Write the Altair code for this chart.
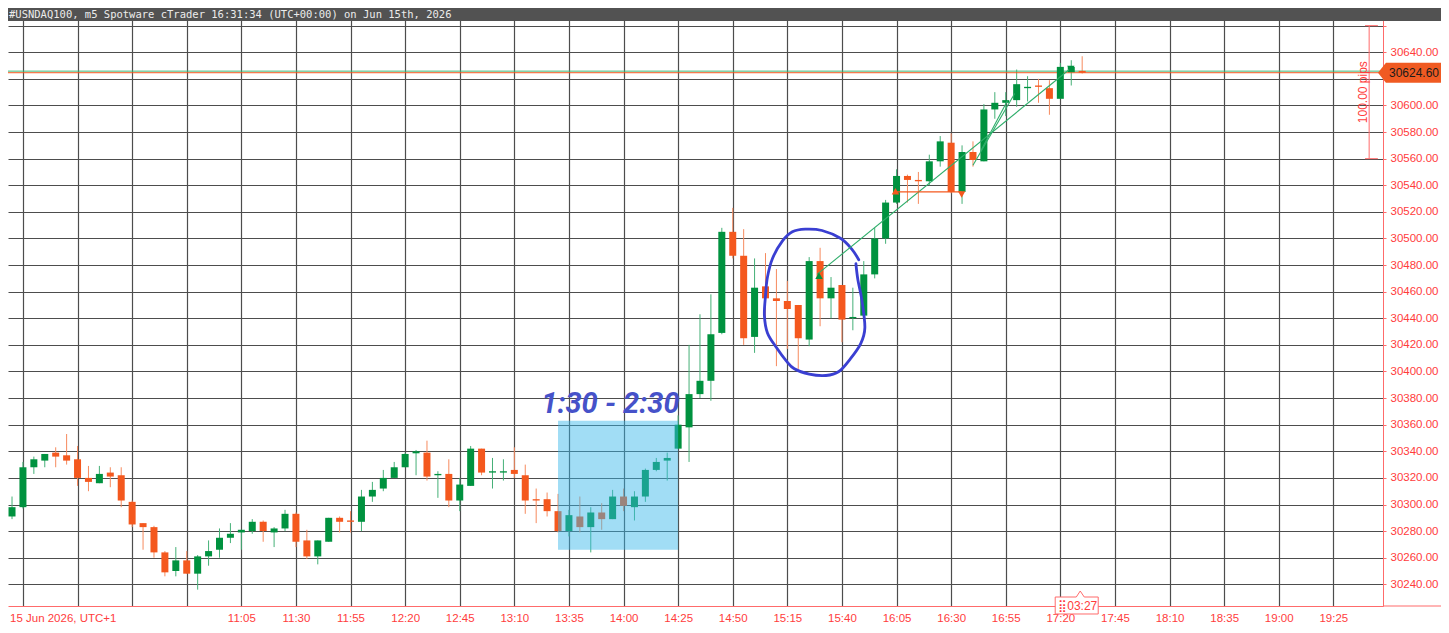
import altair as alt
import pandas as pd

TITLE = "#USNDAQ100, m5 Spotware cTrader 16:31:34 (UTC+00:00) on Jun 15th, 2026"
DATE_LABEL = "15 Jun 2026, UTC+1"
FIRST_BAR = "09:20"
BAR_MINUTES = 5

opens = [30291, 30298, 30328, 30333, 30339, 30337, 30334, 30320, 30316, 30324,
         30322, 30302, 30286, 30283, 30264, 30250, 30258, 30248, 30261, 30266,
         30275, 30279, 30280, 30287, 30279, 30282, 30293, 30273, 30261, 30272,
         30290, 30288, 30287, 30306, 30312, 30320, 30328, 30338.5, 30339, 30322,
         30323, 30303, 30314, 30342, 30324, 30324, 30326, 30322, 30304, 30304,
         30295, 30280, 30291, 30283, 30294, 30289, 30306, 30298, 30306, 30326,
         30333, 30342, 30358, 30383, 30393, 30429, 30505, 30487, 30426, 30464,
         30455, 30453, 30450, 30424, 30483, 30455, 30465, 30440, 30442, 30473,
         30500, 30527, 30547, 30544, 30543, 30558, 30572, 30535, 30565, 30558,
         30597, 30602, 30604, 30613, 30615, 30613, 30605, 30625, 30626]
highs = [30306, 30332, 30336, 30338, 30343, 30353, 30344, 30329, 30329, 30328,
         30328, 30303, 30286, 30284, 30265, 30268, 30265, 30262, 30273, 30282,
         30286, 30281, 30289, 30288, 30283, 30296, 30294, 30281, 30273, 30290,
         30291, 30295, 30311, 30317, 30326, 30332, 30339, 30341, 30348, 30325,
         30334, 30320, 30344, 30342, 30335, 30334, 30343, 30330, 30312, 30309,
         30308, 30296, 30306, 30298, 30301, 30311, 30312, 30310, 30327, 30335,
         30339, 30367, 30420, 30443, 30458, 30508, 30523, 30507, 30485, 30489,
         30477, 30468, 30450, 30486, 30493, 30471, 30465, 30463, 30483, 30508,
         30529, 30552, 30548, 30550, 30563, 30577, 30579, 30570, 30573, 30601,
         30610, 30610, 30627, 30622, 30620, 30619, 30632, 30634, 30637]
lows = [30289, 30297, 30323, 30328, 30328, 30330, 30314, 30310, 30316, 30313,
        30298, 30283, 30266, 30260, 30246, 30246, 30248, 30236, 30254, 30260,
        30271, 30266, 30278, 30272, 30268, 30280, 30268, 30259, 30255, 30272,
        30279, 30279, 30280, 30302, 30310, 30320, 30328, 30322, 30318, 30305,
        30298, 30295, 30314, 30322, 30312, 30318, 30320, 30293, 30286, 30291,
        30279, 30276, 30279, 30264, 30281, 30289, 30295, 30288, 30302, 30325,
        30318, 30342, 30332, 30380, 30378, 30428, 30485, 30420, 30414, 30434,
        30404, 30417, 30402, 30419, 30434, 30440, 30422, 30431, 30440, 30470,
        30496, 30526, 30527, 30526, 30540, 30554, 30534, 30526, 30554, 30558,
        30590, 30592, 30599, 30603, 30602, 30593, 30605, 30615, 30624]
closes = [30298, 30328, 30334, 30338, 30336, 30333, 30320, 30317, 30323, 30321,
          30303, 30285, 30283, 30264, 30249, 30258, 30248, 30261, 30265, 30275,
          30278, 30281, 30287, 30280, 30282, 30293, 30272, 30261, 30273, 30290,
          30287, 30287, 30306, 30311, 30320, 30328, 30338, 30340, 30321, 30323,
          30303, 30315, 30342, 30324, 30325, 30325, 30323, 30303, 30303, 30295,
          30280, 30292, 30283, 30294, 30289, 30306, 30299, 30306, 30326, 30332,
          30335, 30360, 30383, 30393, 30428, 30505, 30487, 30425, 30463, 30455,
          30453, 30447, 30425, 30483, 30455, 30463, 30439, 30441, 30473, 30500,
          30527, 30547, 30544, 30543, 30558, 30573, 30535, 30565, 30559, 30597,
          30602, 30604, 30616, 30614, 30614, 30605, 30629, 30629, 30624.6]

x_tick_times = ["09:25", "09:50", "10:15", "10:40", "11:05", "11:30", "11:55",
                "12:20", "12:45", "13:10", "13:35", "14:00", "14:25", "14:50",
                "15:15", "15:40", "16:05", "16:30", "16:55", "17:20", "17:45",
                "18:10", "18:35", "19:00", "19:25"]
FIRST_LABELED = "11:05"
y_ticks = [30240, 30260, 30280, 30300, 30320, 30340, 30360, 30380, 30400, 30420,
           30440, 30460, 30480, 30500, 30520, 30540, 30560, 30580, 30600, 30620,
           30640, 30660]
Y_LAST_LABELED = 30640
Y_HIDDEN_LABEL = 30620   # covered by the price tag in the original

BID = 30624.60
ASK = 30625.80
TIMER = "03:27"

# highlighted session box
box_start, box_end = "13:30", "14:25"
box_low, box_high = 30266, 30363
box_label = "1:30 - 2:30"
box_label_time, box_label_price = "13:54", 30369

# hand-drawn loop (time, price)
loop_times = ["15:46.4", "15:47.3", "15:49.1", "15:50.5", "15:48.6", "15:43.6",
              "15:38.6", "15:32.7", "15:25.0", "15:18.2", "15:14.5", "15:10.0",
              "15:05.9", "15:04.5", "15:05.0", "15:05.9", "15:08.2", "15:12.7",
              "15:17.3", "15:23.2", "15:30.9", "15:39.5", "15:44.5", "15:47.7"]
loop_prices = [30481, 30469, 30454, 30433, 30421, 30409, 30400, 30397, 30398,
               30402, 30408, 30418, 30429, 30442, 30457, 30471, 30485, 30498,
               30505, 30507, 30506, 30500, 30492, 30484]

# trade connectors (start time, start price, end time, end price, colour)
seg_t1 = ["15:28.6", "16:40.0", "16:43.6", "16:04.5"]
seg_p1 = [30473, 30555, 30566, 30535]
seg_t2 = ["17:24.1", "16:59.1", "16:55.9", "16:34.8"]
seg_p2 = [30627, 30609, 30604, 30535]
seg_col = ["#2fae6b", "#2fae6b", "#2fae6b", "#f4581e"]

# trade markers
mk_t = ["15:29.5", "17:24.8", "16:04.5", "16:34.8"]
mk_p = [30472, 30627.5, 30535.5, 30533]
mk_shape = ["triangle-up", "triangle-down", "triangle-up", "triangle-down"]
mk_col = ["#00923f", "#00923f", "#f4581e", "#f4581e"]

# measurement tool
meas_time = "19:41.4"
meas_low, meas_high = 30560, 30660
meas_tick_from, meas_tick_to = "19:39.5", "19:45.4"
meas_label = "100.00 pips"
meas_label_time, meas_label_price = "19:38.5", 30610

TIMER_TIME = "17:27.5"

GREEN, ORANGE = "#00923f", "#f4581e"
GREEN_W, ORANGE_W = "#45b077", "#f68a5e"
RED = "#ff3c3c"
RED_LINE = "#ff6b6b"
GRID = "#4d4d4d"


def to_min(s):
    hh, mm = s.split(":")
    return int(hh) * 60 + float(mm)


X_DOMAIN = [560.45, 1185.45]
Y_DOMAIN = [30223.7, 30666.5]

t0 = to_min(FIRST_BAR)
candles = pd.DataFrame({
    "t": [t0 + BAR_MINUTES * i for i in range(len(opens))],
    "o": opens, "h": highs, "l": lows, "c": closes,
})
candles["top"] = candles[["o", "c"]].max(axis=1)
candles["bot"] = candles[["o", "c"]].min(axis=1)

xs = alt.Scale(domain=X_DOMAIN, nice=False, zero=False)
ys = alt.Scale(domain=Y_DOMAIN, nice=False, zero=False)

x_vals = [to_min(s) for s in x_tick_times]
first_lab = to_min(FIRST_LABELED)

x_axis = alt.Axis(
    values=x_vals, grid=True, gridColor=GRID, gridWidth=1.2, ticks=False,
    domainColor=RED_LINE, domainWidth=1, labelColor=RED, labelFont="Liberation Sans",
    labelFontSize=11.5, labelPadding=6, labelOverlap=False, labelFlush=False, title=None,
    labelExpr=f"datum.value < {first_lab} ? '' : floor(datum.value / 60) + ':' + format(datum.value % 60, '02d')",
)
y_axis = alt.Axis(
    orient="right", values=y_ticks, grid=True, gridColor=GRID, gridWidth=1.2,
    tickColor=RED_LINE, tickSize=3, domainColor=RED_LINE, domainWidth=1,
    labelColor=RED, labelFont="Liberation Sans", labelFontSize=11.5, labelPadding=4,
    labelAlign="left", labelBaseline="middle", labelOverlap=False, labelFlush=False,
    title=None,
    labelExpr=(f"(datum.value > {Y_LAST_LABELED} || datum.value == {Y_HIDDEN_LABEL}) ? '' : "
               "format(datum.value, '.2f')"),
)

up = "datum.c >= datum.o"

axes_layer = alt.Chart(candles).mark_rule(opacity=0).encode(
    x=alt.X("t:Q", scale=xs, axis=x_axis),
    y=alt.Y("l:Q", scale=ys, axis=y_axis),
)

wicks = alt.Chart(candles).mark_rule(strokeWidth=1).encode(
    x=alt.X("t:Q", scale=xs, axis=None),
    y=alt.Y("l:Q", scale=ys, axis=None),
    y2="h:Q",
    color=alt.condition(up, alt.value(GREEN_W), alt.value(ORANGE_W)),
)
bodies = alt.Chart(candles).mark_bar(size=7).encode(
    x=alt.X("t:Q", scale=xs, axis=None),
    y=alt.Y("bot:Q", scale=ys, axis=None),
    y2="top:Q",
    color=alt.condition(up, alt.value(GREEN), alt.value(ORANGE)),
)

price_df = pd.DataFrame({"p": [ASK, BID], "col": ["#3fb878", "#f4581e"]})
price_lines = alt.Chart(price_df).mark_rule(strokeWidth=1).encode(
    y=alt.Y("p:Q", scale=ys, axis=None),
    color=alt.Color("col:N", scale=None),
)

box_df = pd.DataFrame({"t1": [to_min(box_start)], "t2": [to_min(box_end)],
                       "p1": [box_low], "p2": [box_high]})
box = alt.Chart(box_df).mark_rect(color="#38b6ea", opacity=0.47).encode(
    x=alt.X("t1:Q", scale=xs, axis=None), x2="t2:Q",
    y=alt.Y("p1:Q", scale=ys, axis=None), y2="p2:Q",
)
box_text = alt.Chart(pd.DataFrame({"t": [to_min(box_label_time)], "p": [box_label_price],
                                   "s": [box_label]})).mark_text(
    font="Roboto", fontSize=29, fontWeight="bold", fontStyle="italic",
    color="#4652c9", align="center", baseline="alphabetic",
).encode(x=alt.X("t:Q", scale=xs, axis=None), y=alt.Y("p:Q", scale=ys, axis=None), text="s:N")

loop_df = pd.DataFrame({"t": [to_min(s) for s in loop_times], "p": loop_prices,
                        "i": list(range(len(loop_times)))})
loop = alt.Chart(loop_df).mark_line(color="#3a3fd2", strokeWidth=2.8,
                                    interpolate="cardinal", strokeCap="round").encode(
    x=alt.X("t:Q", scale=xs, axis=None), y=alt.Y("p:Q", scale=ys, axis=None), order="i:Q",
)

seg_df = pd.DataFrame({"t1": [to_min(s) for s in seg_t1], "p1": seg_p1,
                       "t2": [to_min(s) for s in seg_t2], "p2": seg_p2, "col": seg_col})
segs = alt.Chart(seg_df).mark_rule(strokeWidth=1.1).encode(
    x=alt.X("t1:Q", scale=xs, axis=None), x2="t2:Q",
    y=alt.Y("p1:Q", scale=ys, axis=None), y2="p2:Q",
    color=alt.Color("col:N", scale=None),
)
mk_df = pd.DataFrame({"t": [to_min(s) for s in mk_t], "p": mk_p, "s": mk_shape, "col": mk_col})
markers = alt.Chart(mk_df).mark_point(filled=True, opacity=1, size=55).encode(
    x=alt.X("t:Q", scale=xs, axis=None), y=alt.Y("p:Q", scale=ys, axis=None),
    shape=alt.Shape("s:N", scale=None), color=alt.Color("col:N", scale=None),
)

meas_df = pd.DataFrame({"t": [to_min(meas_time)], "p1": [meas_low], "p2": [meas_high]})
meas_line = alt.Chart(meas_df).mark_rule(color=RED_LINE, strokeWidth=1).encode(
    x=alt.X("t:Q", scale=xs, axis=None), y=alt.Y("p1:Q", scale=ys, axis=None), y2="p2:Q",
)
meas_ticks_df = pd.DataFrame({"t1": [to_min(meas_tick_from)] * 2, "t2": [to_min(meas_tick_to)] * 2,
                              "p": [meas_low, meas_high]})
meas_ticks = alt.Chart(meas_ticks_df).mark_rule(color=RED_LINE, strokeWidth=1).encode(
    x=alt.X("t1:Q", scale=xs, axis=None), x2="t2:Q", y=alt.Y("p:Q", scale=ys, axis=None),
)
meas_text = alt.Chart(pd.DataFrame({"t": [to_min(meas_label_time)], "p": [meas_label_price],
                                    "s": [meas_label]})).mark_text(
    font="Liberation Sans", fontSize=12, color=RED, angle=270, align="center", baseline="middle",
).encode(x=alt.X("t:Q", scale=xs, axis=None), y=alt.Y("p:Q", scale=ys, axis=None), text="s:N")

# price tag on the axis
tag_path = "M-1,0L-0.76,-0.3L1,-0.3L1,0.3L-0.76,0.3Z"
tag_df = pd.DataFrame({"p": [BID], "s": [f"{BID:.2f}"]})
tag = alt.Chart(tag_df).mark_point(shape=tag_path, size=4356, filled=True, color="#f05a22",
                                   opacity=1).encode(
    x=alt.value(1403), y=alt.Y("p:Q", scale=ys, axis=None),
)
tag_text = alt.Chart(tag_df).mark_text(font="Liberation Sans", fontSize=12, color="#1a1a1a",
                                       align="center", baseline="middle").encode(
    x=alt.value(1406), y=alt.Y("p:Q", scale=ys, axis=None), text="s:N",
)

# timer tag on the time axis
timer_path = "M-1,-0.395L-0.02,-0.395L0.163,-0.674L0.35,-0.395L1,-0.395L1,0.395L-1,0.395Z"
timer_df = pd.DataFrame({"t": [to_min(TIMER_TIME)], "s": ["\u28ff" + TIMER]})
timer = alt.Chart(timer_df).mark_point(shape=timer_path, size=1849, filled=True, fill="white",
                                       stroke=RED_LINE, strokeWidth=1, opacity=1).encode(
    x=alt.X("t:Q", scale=xs, axis=None), y=alt.value(588.5),
)
timer_text = alt.Chart(timer_df).mark_text(font="Liberation Sans", fontSize=12, color=RED,
                                           align="center", baseline="middle", dx=1).encode(
    x=alt.X("t:Q", scale=xs, axis=None), y=alt.value(589), text="s:N",
)

axis_ext = alt.Chart(pd.DataFrame({"a": [0]})).mark_rule(color=RED_LINE, strokeWidth=1).encode(
    x=alt.value(1375), x2=alt.value(1433), y=alt.value(589),
)

title_bar = alt.Chart(pd.DataFrame({"a": [0]})).mark_rect(color="#525252").encode(
    x=alt.value(0), x2=alt.value(1433), y=alt.value(-9), y2=alt.value(4),
)
title_text = alt.Chart(pd.DataFrame({"s": [TITLE]})).mark_text(
    font="DejaVu Sans Mono", fontSize=10.5, color="#ececec", align="left", baseline="middle",
).encode(x=alt.value(1), y=alt.value(-2.5), text="s:N")

date_text = alt.Chart(pd.DataFrame({"s": [DATE_LABEL]})).mark_text(
    font="Liberation Sans", fontSize=11.5, color=RED, align="left", baseline="middle",
).encode(x=alt.value(2), y=alt.value(602), text="s:N")

chart = alt.layer(
    axes_layer, wicks, price_lines, bodies, box, box_text, loop, segs, markers,
    meas_line, meas_ticks, meas_text, axis_ext, tag, tag_text, timer, timer_text,
    title_bar, title_text, date_text,
).resolve_scale(color="independent", shape="independent").resolve_axis(
    x="independent", y="independent"
).properties(
    width=1375, height=589,
    autosize=alt.AutoSizeParams(type="none"),
    padding={"left": 0, "top": 9, "right": 58, "bottom": 19},
).configure_view(stroke=None)

chart.save("out.html", embed_options={"renderer": "svg", "actions": False})
